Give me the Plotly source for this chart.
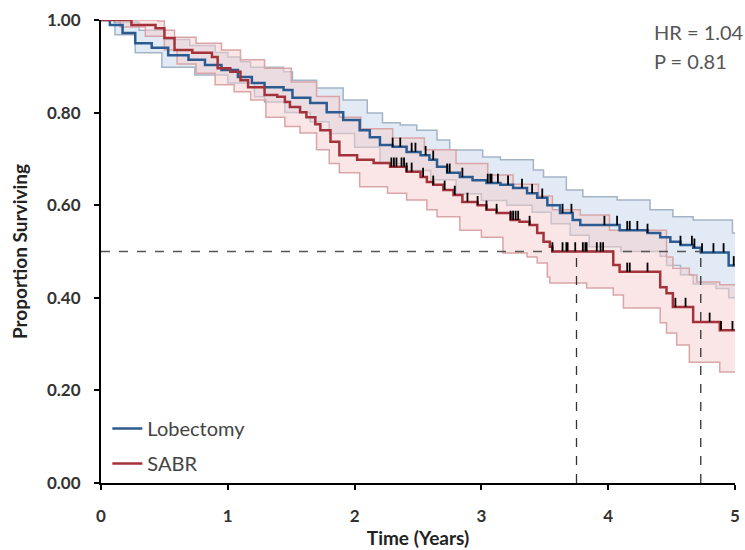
import numpy as np
import plotly.graph_objects as go

# ---- data ----
t_end = 5.0

lob_t = [0, 0.07, 0.17, 0.27, 0.40, 0.53, 0.69, 0.82, 0.95, 1.08, 1.19, 1.29, 1.44, 1.51, 1.65,
         1.78, 1.91, 2.04, 2.12, 2.20, 2.30, 2.41, 2.52, 2.59, 2.65, 2.73, 2.83, 2.93, 3.04, 3.15,
         3.25, 3.36, 3.44, 3.52, 3.62, 3.72, 3.78, 4.09, 4.31, 4.41, 4.49, 4.57, 4.67, 4.73, 4.95]
lob_s = [1.0, 0.989, 0.972, 0.950, 0.940, 0.924, 0.914, 0.903, 0.892, 0.877, 0.864, 0.855, 0.849, 0.832, 0.821,
         0.801, 0.784, 0.762, 0.747, 0.730, 0.726, 0.715, 0.708, 0.698, 0.683, 0.670, 0.661, 0.654, 0.648, 0.644,
         0.637, 0.626, 0.616, 0.600, 0.583, 0.568, 0.557, 0.546, 0.540, 0.531, 0.521, 0.514, 0.508, 0.498, 0.470]

lob_up_t = [0, 0.10, 0.30, 0.50, 0.70, 0.90, 1.00, 1.10, 1.18, 1.44, 1.51, 1.70, 1.91, 2.10, 2.22,
            2.36, 2.49, 2.65, 2.75, 3.01, 3.15, 3.41, 3.49, 3.67, 3.80, 4.07, 4.33, 4.51, 4.67, 4.98]
lob_up = [1.0, 0.995, 0.978, 0.958, 0.945, 0.93, 0.92, 0.91, 0.898, 0.888, 0.870, 0.853, 0.827, 0.799, 0.778,
          0.773, 0.762, 0.741, 0.719, 0.704, 0.698, 0.676, 0.661, 0.633, 0.618, 0.611, 0.590, 0.575, 0.568, 0.540]

lob_lo_t = [0, 0.11, 0.27, 0.48, 0.74, 1.00, 1.21, 1.29, 1.45, 1.65, 1.80, 2.00, 2.20, 2.40, 2.60,
            2.80, 3.00, 3.20, 3.40, 3.55, 3.70, 3.85, 4.10, 4.41, 4.46, 4.57, 4.67, 4.85, 4.95]
lob_lo = [1.0, 0.968, 0.929, 0.898, 0.881, 0.864, 0.834, 0.823, 0.80, 0.78, 0.755, 0.725, 0.69, 0.675, 0.655,
          0.625, 0.61, 0.60, 0.585, 0.56, 0.535, 0.51, 0.50, 0.49, 0.47, 0.45, 0.43, 0.42, 0.40]

sabr_t = [0, 0.24, 0.43, 0.50, 0.58, 0.72, 0.875, 0.92, 1.02, 1.10, 1.16, 1.29, 1.39, 1.45, 1.49,
          1.57, 1.62, 1.69, 1.73, 1.81, 1.88, 2.02, 2.15, 2.28, 2.41, 2.52, 2.57, 2.62, 2.70, 2.78,
          2.85, 2.97, 3.04, 3.12, 3.23, 3.30, 3.38, 3.44, 3.49, 3.54, 3.56, 4.04, 4.09, 4.41, 4.46,
          4.51, 4.67, 4.88]
sabr_s = [1.0, 0.989, 0.982, 0.961, 0.935, 0.929, 0.920, 0.896, 0.888, 0.870, 0.855, 0.838, 0.834, 0.823, 0.812,
          0.801, 0.790, 0.775, 0.762, 0.737, 0.708, 0.698, 0.691, 0.683, 0.672, 0.661, 0.650, 0.644, 0.633, 0.622,
          0.607, 0.600, 0.590, 0.583, 0.568, 0.564, 0.557, 0.540, 0.521, 0.510, 0.500, 0.471, 0.456, 0.423, 0.410,
          0.380, 0.348, 0.330]

sabr_up_t = [0, 0.45, 0.50, 0.58, 0.75, 0.95, 1.10, 1.29, 1.50, 1.70, 1.88, 2.05, 2.30, 2.55, 2.80,
             3.05, 3.25, 3.45, 3.56, 3.78, 4.01, 4.46, 4.51, 4.64, 4.70, 4.88]
sabr_up = [1.0, 0.998, 0.978, 0.963, 0.950, 0.935, 0.914, 0.896, 0.866, 0.835, 0.79, 0.765, 0.745, 0.72, 0.69,
           0.665, 0.645, 0.62, 0.59, 0.579, 0.546, 0.488, 0.464, 0.449, 0.434, 0.428]

sabr_lo_t = [0, 0.15, 0.35, 0.50, 0.60, 0.75, 0.90, 1.05, 1.18, 1.30, 1.45, 1.57, 1.70, 1.80, 1.88,
             2.04, 2.26, 2.41, 2.57, 2.65, 2.83, 3.00, 3.17, 3.36, 3.44, 3.52, 3.54, 3.83, 4.04, 4.12,
             4.41, 4.46, 4.54, 4.64, 4.88]
sabr_lo = [1.0, 0.985, 0.965, 0.935, 0.905, 0.885, 0.86, 0.845, 0.827, 0.79, 0.77, 0.756, 0.72, 0.69, 0.67,
           0.64, 0.626, 0.611, 0.59, 0.575, 0.546, 0.531, 0.497, 0.488, 0.475, 0.445, 0.432, 0.421, 0.406, 0.378,
           0.346, 0.324, 0.298, 0.261, 0.240]

lob_cens = [2.30, 2.36, 2.45, 2.48, 2.56, 2.62, 2.73, 2.75, 2.85, 3.05, 3.07, 3.08, 3.13, 3.21, 3.32, 3.40,
            3.48, 3.64, 3.71, 3.97, 4.07, 4.15, 4.17, 4.23, 4.31, 4.57, 4.66, 4.68, 4.74, 4.83, 4.91, 4.99]
sabr_cens = [2.29, 2.31, 2.33, 2.37, 2.39, 2.41, 2.45, 2.54, 2.62, 2.71, 2.79, 2.89, 2.97, 3.04, 3.12, 3.23,
             3.25, 3.27, 3.29, 3.38, 3.56, 3.64, 3.67, 3.68, 3.74, 3.80, 3.82, 3.83, 3.91, 3.94, 3.96, 4.15,
             4.17, 4.31, 4.53, 4.61, 4.80, 4.89, 4.98]

median_level = 0.50
sabr_median = 3.75
lob_median = 4.73
hr_text = "HR = 1.04"
p_text = "P = 0.81"

# ---- styles ----
BLUE = "#2B5B91"
RED = "#A3323A"
BLUE_EDGE = "#A4B4C6"
RED_EDGE = "#D9A5A8"
BLUE_FILL = "rgba(200,216,236,0.55)"
RED_FILL = "rgba(245,205,205,0.50)"
FONT = "Lato"


def ext(t, s):
    return list(t) + [t_end], list(s) + [s[-1]]


def step_at(t, s, x):
    i = np.searchsorted(np.array(t), x, side="right") - 1
    return s[max(i, 0)]


fig = go.Figure()

for lo_t, lo, up_t, up, edge, fill in [
    (lob_lo_t, lob_lo, lob_up_t, lob_up, BLUE_EDGE, BLUE_FILL),
    (sabr_lo_t, sabr_lo, sabr_up_t, sabr_up, RED_EDGE, RED_FILL),
]:
    x1, y1 = ext(lo_t, lo)
    x2, y2 = ext(up_t, up)
    fig.add_trace(go.Scatter(x=x1, y=y1, mode="lines", line=dict(color=edge, width=1.5, shape="hv"),
                             showlegend=False, hoverinfo="skip"))
    fig.add_trace(go.Scatter(x=x2, y=y2, mode="lines", line=dict(color=edge, width=1.5, shape="hv"),
                             fill="tonexty", fillcolor=fill, showlegend=False, hoverinfo="skip"))

# median reference lines
fig.add_trace(go.Scatter(x=[0, lob_median], y=[median_level, median_level], mode="lines",
                         line=dict(color="#555555", width=1.3, dash="dash"), showlegend=False, hoverinfo="skip"))
for m in [sabr_median, lob_median]:
    fig.add_trace(go.Scatter(x=[m, m], y=[0, median_level], mode="lines",
                             line=dict(color="#333333", width=1.3, dash="dash"), showlegend=False, hoverinfo="skip"))

# survival curves
for name, t, s, col, cens in [("Lobectomy", lob_t, lob_s, BLUE, lob_cens), ("SABR", sabr_t, sabr_s, RED, sabr_cens)]:
    x, y = ext(t, s)
    fig.add_trace(go.Scatter(x=x, y=y, mode="lines", name=name, line=dict(color=col, width=2.5, shape="hv"),
                             legendgroup=name))
    cx, cy = [], []
    for c in cens:
        v = step_at(t, s, c)
        cx += [c, c, None]
        cy += [v, v + 0.02, None]
    fig.add_trace(go.Scatter(x=cx, y=cy, mode="lines", line=dict(color="black", width=1.8),
                             showlegend=False, hoverinfo="skip"))

fig.add_annotation(xref="paper", yref="paper", x=0.869, y=0.975, text=hr_text, showarrow=False,
                   xanchor="left", yanchor="middle", font=dict(family=FONT, size=20, color="#555555"))
fig.add_annotation(xref="paper", yref="paper", x=0.869, y=0.912, text=p_text, showarrow=False,
                   xanchor="left", yanchor="middle", font=dict(family=FONT, size=20, color="#555555"))

fig.update_layout(
    width=745, height=550,
    margin=dict(l=101, r=10, t=20, b=67),
    plot_bgcolor="white", paper_bgcolor="white",
    font=dict(family=FONT, color="#333333"),
    legend=dict(x=0.01, y=0.0, xanchor="left", yanchor="bottom", bgcolor="rgba(0,0,0,0)",
                font=dict(family=FONT, size=20, color="#444444"), itemwidth=30, tracegroupgap=6),
    xaxis=dict(range=[0, 5], tickvals=[0, 1, 2, 3, 4, 5], showgrid=False, zeroline=False, automargin=False,
               showline=True, linecolor="black", linewidth=2, ticks="outside", ticklen=5, tickwidth=2,
               tickcolor="black", ticklabelstandoff=12,
               tickfont=dict(family=FONT, size=17, color="#333333", weight="bold"),
               title=dict(text="Time (Years)", font=dict(family=FONT, size=19, color="#222222", weight="bold"),
                          standoff=6)),
    yaxis=dict(range=[0, 1], tickvals=[0, 0.2, 0.4, 0.6, 0.8, 1.0], tickformat=".2f", showgrid=False,
               zeroline=False, automargin=False, showline=True, linecolor="black", linewidth=2, ticks="outside",
               ticklen=5, tickwidth=2, tickcolor="black", ticklabelstandoff=10,
               tickfont=dict(family=FONT, size=17, color="#333333", weight="bold"),
               title=dict(text="Proportion Surviving", font=dict(family=FONT, size=19, color="#222222", weight="bold"),
                          standoff=14)),
)

fig.write_html("out.html")
